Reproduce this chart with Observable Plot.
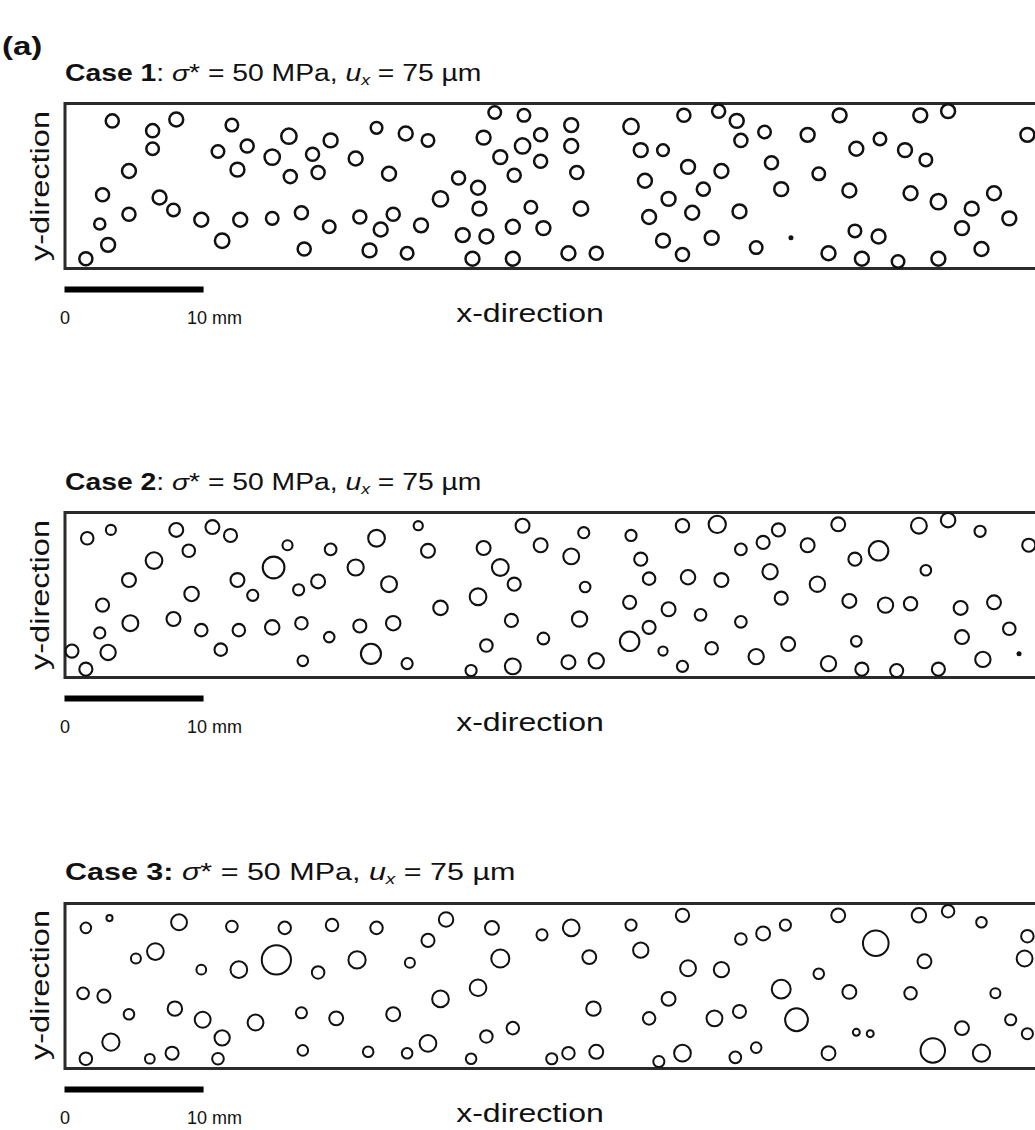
<!DOCTYPE html>
<html><head><meta charset="utf-8">
<script src="https://cdn.jsdelivr.net/npm/d3@7"></script>
<script src="https://cdn.jsdelivr.net/npm/@observablehq/plot@0.6"></script>
<style>
html,body{margin:0;padding:0;background:#fff;overflow:hidden;}
#root{position:relative;width:1035px;height:1130px;overflow:hidden;font-family:"Liberation Sans",Arial,Helvetica,sans-serif;color:#111;}
.lbl{position:absolute;white-space:nowrap;line-height:1;}
.lbl sub{font-size:0.62em;vertical-align:-0.3em;line-height:0;}
.plotwrap{position:absolute;left:0;}
</style></head><body><div id="root"></div>
<script>
// ---------- data ----------
const panelLabel = "(a)";
const caseNames = ["Case 1", "Case 2", "Case 3"];
const caseColonBold = [false, false, true];
const stressMPa = [50, 50, 50];
const dispUm = [75, 75, 75];
const scaleBarMm = [0, 10];
const scaleBarText = ["0", "10 mm"];
const axisNames = ["x-direction", "y-direction"];
const specimenLengthMm = 70;
const specimenHeightMm = 11.85;

// pores: [x (mm), y (mm), radius (mm)]
const case1Pores = [
 [3.4,10.6,.47],[6.3,9.9,.47],[8.0,10.7,.5],[6.3,8.6,.45],[4.6,7.0,.5],[2.7,5.3,.47],[2.5,3.2,.4],[3.1,1.7,.5],[1.5,0.7,.47],[4.6,3.9,.47],
 [6.8,5.1,.5],[7.8,4.2,.45],[9.8,3.5,.5],[11.3,2.0,.52],[12.6,3.5,.5],[14.9,3.6,.45],[17.0,4.0,.47],[17.2,1.4,.47],[12.0,10.3,.45],[11.0,8.4,.45],
 [13.1,8.8,.47],[12.4,7.1,.5],[14.9,8.0,.55],[16.1,9.5,.55],[16.2,6.6,.47],[19.1,9.2,.5],[17.8,8.2,.47],[18.2,6.9,.47],[20.9,7.9,.5],[22.4,10.1,.42],
 [24.5,9.7,.5],[26.1,9.2,.45],[23.3,6.8,.5],[19.0,3.0,.45],[21.2,3.7,.47],[23.6,3.9,.47],[22.7,2.8,.5],[25.6,3.1,.5],[21.9,1.3,.5],[24.6,1.1,.45],
 [27.0,5.0,.55],[28.3,6.5,.47],[29.7,5.8,.5],[29.8,4.3,.5],[28.6,2.4,.5],[30.3,2.3,.5],[29.3,0.7,.5],[32.2,0.7,.5],[32.2,3.0,.5],[33.5,4.4,.45],
 [34.4,2.9,.5],[30.9,11.2,.45],[33.0,11.0,.45],[30.1,9.4,.5],[32.9,8.8,.55],[34.2,9.6,.47],[31.3,8.0,.5],[34.2,7.7,.47],[32.3,6.7,.47],[36.4,10.3,.5],
 [36.4,8.8,.5],[36.8,6.9,.47],[37.1,4.3,.52],[36.2,1.1,.5],[38.2,1.1,.47],[40.7,10.2,.55],[41.4,8.5,.5],[43.0,8.5,.42],[41.7,6.3,.5],[43.4,5.0,.5],
 [42.0,3.7,.5],[43.0,2.0,.5],[44.4,1.0,.47],[44.5,11.0,.47],[47.0,11.3,.47],[48.3,10.6,.5],[48.6,9.2,.47],[50.3,9.8,.45],[44.8,7.3,.5],[47.2,7.0,.5],
 [45.9,5.7,.47],[45.1,4.0,.5],[46.5,2.2,.5],[48.5,4.1,.5],[49.7,1.5,.45],[50.8,7.6,.47],[51.5,5.7,.5],[55.7,11.0,.5],[61.5,11.0,.5],[63.5,11.3,.5],
 [53.4,9.6,.5],[58.6,9.3,.45],[56.9,8.6,.5],[60.4,8.5,.5],[61.9,7.8,.45],[54.2,6.8,.45],[56.4,5.6,.5],[60.8,5.4,.5],[62.8,4.8,.55],[65.2,4.3,.5],
 [66.8,5.4,.5],[67.9,3.6,.5],[64.5,2.9,.5],[65.9,1.4,.5],[56.8,2.7,.45],[58.5,2.3,.5],[54.9,1.1,.5],[57.3,0.7,.5],[59.9,0.5,.45],[62.8,0.7,.5],
 [69.2,9.6,.5]
];
const case1Solid = [[52.2,2.2,.18]];

const case2Pores = [
 [1.6,10.0,.45],[3.3,10.6,.36],[8.0,10.6,.5],[10.6,10.8,.5],[11.9,10.2,.47],[8.9,9.1,.45],[6.4,8.4,.6],[16.0,9.5,.36],[15.0,7.9,.78],[4.6,7.0,.5],
 [12.4,7.0,.5],[13.5,5.9,.4],[16.8,6.3,.4],[9.1,6.0,.52],[2.7,5.2,.47],[4.7,3.9,.57],[7.8,4.2,.5],[9.8,3.4,.45],[12.5,3.4,.45],[14.9,3.6,.52],
 [17.0,3.9,.45],[2.5,3.2,.4],[0.5,1.9,.47],[3.1,1.8,.55],[11.2,2.0,.45],[19.0,2.9,.38],[21.2,3.7,.47],[23.6,3.9,.52],[27.0,5.0,.52],[29.7,5.8,.6],
 [32.1,4.1,.47],[34.4,2.8,.42],[30.3,2.3,.45],[32.2,0.8,.57],[29.2,0.5,.4],[24.6,1.0,.4],[22.0,1.7,.72],[17.1,1.2,.38],[1.5,0.6,.47],[25.4,10.9,.33],
 [22.4,10.0,.6],[19.1,9.2,.42],[26.1,9.1,.5],[20.9,7.9,.58],[18.2,6.9,.5],[23.3,6.7,.57],[30.1,9.3,.5],[32.9,10.9,.5],[34.2,9.5,.5],[31.3,7.9,.6],
 [32.3,6.7,.47],[37.3,10.4,.4],[40.7,10.2,.4],[44.4,10.9,.48],[46.9,11.0,.62],[36.4,8.7,.57],[41.4,8.5,.47],[42.0,7.1,.45],[44.8,7.2,.52],[47.2,7.0,.5],
 [48.6,9.2,.42],[50.2,9.7,.47],[51.3,10.6,.47],[50.7,7.6,.55],[51.5,5.7,.47],[37.4,6.5,.38],[40.6,5.4,.47],[43.4,4.9,.5],[45.7,4.5,.42],[48.6,4.0,.42],
 [37.0,4.2,.55],[42.0,3.6,.47],[40.6,2.6,.7],[43.0,1.9,.33],[46.5,2.1,.45],[56.4,5.5,.5],[59.0,5.2,.55],[60.8,5.3,.48],[64.4,5.0,.5],[66.8,5.4,.5],
 [67.9,3.5,.45],[64.5,2.9,.5],[66.0,1.3,.55],[62.8,0.6,.47],[59.8,0.5,.47],[57.3,0.6,.47],[54.9,1.0,.55],[56.9,2.6,.38],[52.0,2.4,.5],[49.7,1.5,.55],
 [44.4,0.8,.4],[38.2,1.2,.55],[36.2,1.1,.5],[55.6,11.0,.5],[61.4,10.9,.57],[63.5,11.3,.52],[65.8,10.5,.4],[69.3,9.5,.47],[53.4,9.5,.5],[56.8,8.5,.47],
 [58.5,9.1,.7],[61.9,7.7,.38],[54.1,6.7,.55]
];
const case2Solid = [[68.6,1.7,.18]];

const case3Pores = [
 [1.5,10.1,.38],[3.2,10.8,.22],[8.2,10.5,.57],[12.0,10.2,.42],[15.8,10.1,.45],[19.2,10.3,.45],[22.4,10.1,.45],[27.4,10.7,.52],[30.7,10.1,.5],[34.3,9.6,.4],
 [5.1,7.9,.36],[6.5,8.4,.6],[9.8,7.1,.35],[12.5,7.1,.6],[15.2,7.8,1.05],[18.2,6.9,.45],[21.0,7.8,.62],[24.8,7.6,.36],[26.1,9.2,.47],[31.3,7.9,.65],
 [1.3,5.4,.42],[2.8,5.2,.47],[4.6,3.9,.38],[7.9,4.3,.52],[9.9,3.5,.57],[13.7,3.3,.57],[17.0,4.0,.4],[19.5,3.6,.5],[23.6,3.9,.5],[27.0,5.0,.6],
 [29.7,5.8,.6],[3.3,1.9,.62],[11.3,2.2,.55],[17.1,1.3,.38],[21.8,1.2,.38],[24.6,1.1,.38],[26.1,1.8,.6],[30.3,2.3,.45],[32.2,2.9,.45],[1.5,0.7,.45],
 [6.1,0.7,.35],[7.7,1.1,.47],[11.0,0.7,.42],[29.2,0.7,.38],[36.4,10.1,.6],[40.7,10.3,.4],[44.4,11.0,.48],[48.6,9.3,.42],[50.2,9.7,.5],[51.8,10.3,.4],
 [55.6,11.0,.5],[61.4,11.0,.52],[63.5,11.3,.45],[65.9,10.5,.38],[69.2,9.5,.45],[58.3,9.0,.92],[37.7,8.0,.5],[41.4,8.5,.55],[44.8,7.2,.57],[47.2,7.1,.55],
 [54.2,6.8,.38],[61.8,7.7,.5],[69.0,7.9,.57],[51.5,5.7,.68],[56.4,5.5,.5],[60.8,5.4,.45],[66.9,5.4,.36],[43.4,5.0,.5],[38.0,4.3,.52],[42.0,3.6,.45],
 [46.7,3.6,.57],[48.5,4.1,.47],[52.6,3.5,.82],[56.9,2.6,.25],[57.9,2.5,.25],[64.5,2.9,.5],[68.0,3.5,.4],[69.2,2.5,.4],[49.7,1.5,.38],[36.2,1.1,.45],
 [38.2,1.2,.5],[35.0,0.7,.4],[44.4,1.1,.6],[42.7,0.5,.4],[48.2,0.8,.42],[54.9,1.1,.5],[62.4,1.3,.88],[65.9,1.1,.62]
];
const case3Solid = [];

// ---------- layout ----------
const BOX_TOPS = [103.3, 512.3, 902.7];
const BOX_H = 165;
const MT = 10, MB = 70, ML = 64.5, MR = 2, W = 1040;
const pxPerMm = (W - ML - MR) / specimenLengthMm;
const FONT = '"Liberation Sans", Arial, Helvetica, sans-serif';
const root = document.getElementById("root");

function addLabel(html, css) {
  const el = document.createElement("div");
  el.className = "lbl";
  el.innerHTML = html;
  Object.assign(el.style, css);
  root.appendChild(el);
  return el;
}

function panelPlot(pores, solids, sw) {
  return Plot.plot({
    width: W, height: MT + BOX_H + MB,
    marginLeft: ML, marginRight: MR, marginTop: MT, marginBottom: MB,
    x: {domain: [0, specimenLengthMm], axis: null},
    y: {domain: [0, specimenHeightMm], axis: null},
    r: {type: "linear", domain: [0, 1], range: [0, pxPerMm]},
    style: {maxWidth: "none", overflow: "visible", background: "none", fontFamily: FONT, color: "#111"},
    marks: [
      Plot.frame({stroke: "#2b2b2b", strokeWidth: 3}),
      Plot.dot(pores, {x: d => d[0], y: d => d[1], r: d => d[2], stroke: "#111", strokeWidth: sw, fill: "none"}),
      Plot.dot(solids, {x: d => d[0], y: d => d[1], r: d => d[2], fill: "#111", stroke: "none"}),
      Plot.ruleY([-1.5], {x1: scaleBarMm[0], x2: scaleBarMm[1], stroke: "#000", strokeWidth: 6}),
      Plot.text([scaleBarText[0]], {x: scaleBarMm[0], y: -1.5, text: d => d, dy: 29, fontSize: 18, fill: "#111"}),
      Plot.text([scaleBarText[1]], {x: scaleBarMm[1], y: -1.5, text: d => d, dy: 29, dx: -17, textAnchor: "start", fontSize: 18, fill: "#111"})
    ]
  });
}

// panel label
addLabel(panelLabel, {left: "2px", top: "33px", fontSize: "26px", fontWeight: "bold", transform: "scaleX(1.27)", transformOrigin: "left center"});

const allPores = [case1Pores, case2Pores, case3Pores];
const allSolids = [case1Solid, case2Solid, case3Solid];
const strokeW = [2.5, 2.1, 2.0];
const titleFont = [23, 23, 24];
const titleStretch = [1.23, 1.23, 1.27];

for (let i = 0; i < 3; i++) {
  const top = BOX_TOPS[i];
  const bottom = top + BOX_H;
  // title
  const name = caseColonBold[i] ? `<b>${caseNames[i]}:</b>` : `<b>${caseNames[i]}</b>:`;
  addLabel(`${name} <i>σ</i>* = ${stressMPa[i]} MPa, <i>u</i><sub><i>x</i></sub> = ${dispUm[i]} µm`,
    {left: "65px", top: (top - 22 - titleFont[i] * 0.846) + "px", fontSize: titleFont[i] + "px", transform: `scaleX(${titleStretch[i]})`, transformOrigin: "left center"});
  // plot
  const wrap = document.createElement("div");
  wrap.className = "plotwrap";
  wrap.style.top = (top - MT) + "px";
  wrap.appendChild(panelPlot(allPores[i], allSolids[i], strokeW[i]));
  root.appendChild(wrap);
  // x-direction
  addLabel(axisNames[0], {left: "530px", top: (bottom + 54 - 21.2) + "px", fontSize: "25px", transform: "translateX(-50%) scaleX(1.28)", transformOrigin: "center center"});
  // y-direction
  addLabel(axisNames[1], {left: "40px", top: (top + BOX_H / 2) + "px", fontSize: "25px", transform: "translate(-50%,-50%) rotate(-90deg) scaleX(1.3)", transformOrigin: "center center"});
}
</script></body></html>
